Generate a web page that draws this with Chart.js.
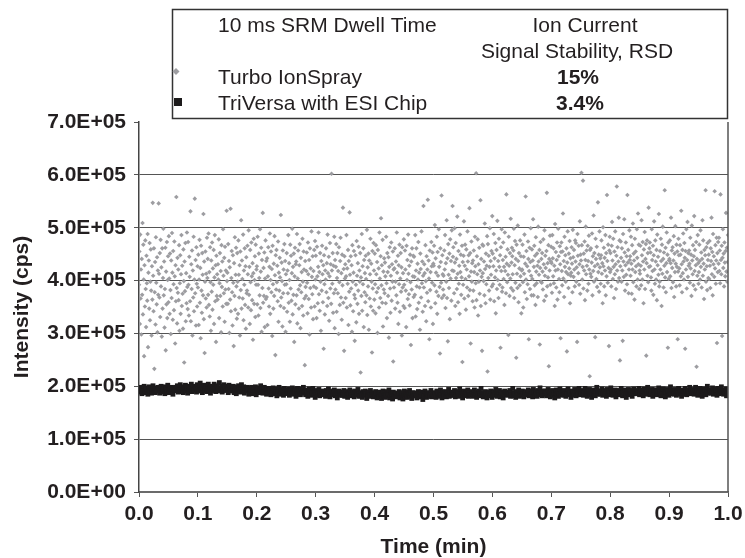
<!DOCTYPE html>
<html>
<head>
<meta charset="UTF-8">
<title>Ion current signal stability</title>
<script src="https://cdn.jsdelivr.net/npm/chart.js@4.4.4/dist/chart.umd.min.js"></script>
<style>
  html, body { margin: 0; padding: 0; background: #fff; }
  #chart { display: block; }
</style>
</head>
<body>
<canvas id="chart" width="745" height="558"></canvas>
<script>
// axis text
const xTickLabels = ['0.0','0.1','0.2','0.3','0.4','0.5','0.6','0.7','0.8','0.9','1.0'];
const yTickLabels = ['0.0E+00','1.0E+05','2.0E+05','3.0E+05','4.0E+05','5.0E+05','6.0E+05','7.0E+05'];
const xTitle = 'Time (min)';
const yTitle = 'Intensity (cps)';

// legend text
const legendHeader = ['10 ms SRM Dwell Time', 'Ion Current', 'Signal Stability, RSD'];
const seriesNames = ['Turbo IonSpray', 'TriVersa with ESI Chip'];
const rsdLabels = ['15%', '3.4%'];

// intensities in thousands of cps, one per scan left to right
const turboKcps = [
  392,455,318,487,366,421,298,441,373,509,336,468,402,257,429,351,476,384,312,447,395,362,488,274,415,
  438,347,471,325,398,459,381,296,427,364,547,409,342,461,233,378,435,317,482,396,355,444,302,419,373,
  546,413,368,452,331,477,389,425,294,461,347,405,498,372,436,311,384,462,268,417,355,473,329,401,446,
  359,484,404,337,451,382,299,438,367,490,415,326,456,393,344,474,408,281,429,361,558,386,319,443,377,
  421,363,467,305,395,448,337,412,486,352,428,375,309,459,399,245,436,380,471,323,414,357,491,388,346,
  473,392,334,445,407,361,531,323,431,384,457,296,419,368,483,342,402,555,376,439,315,463,394,351,427,
  387,449,316,402,477,358,424,291,466,381,339,452,411,372,526,327,436,263,398,455,366,413,349,481,405,
  441,373,489,354,416,332,463,397,305,438,379,472,345,423,392,458,318,406,486,361,429,284,447,371,412,
  364,431,402,478,329,395,452,371,418,302,467,388,436,351,497,409,376,443,322,464,383,419,356,532,399,
  415,356,469,384,437,301,425,364,536,342,405,456,378,315,448,396,276,433,371,482,345,411,462,389,328,
  452,398,337,476,411,368,429,296,455,382,514,347,438,403,366,487,325,419,392,461,354,427,309,444,376,
  381,466,412,349,495,373,426,318,458,397,344,472,408,363,433,288,414,479,356,401,446,331,468,392,421,
  427,355,483,392,334,451,405,372,497,348,417,462,303,439,386,528,358,424,371,453,312,404,476,365,437,
  369,442,316,408,463,385,351,426,489,337,401,455,378,422,295,466,393,347,432,371,484,410,259,448,383,
  458,397,428,361,474,322,415,381,443,406,352,524,368,434,399,313,457,376,421,348,469,392,437,303,412,
  393,452,341,419,376,486,358,433,401,322,468,385,447,362,414,498,336,426,373,451,284,408,462,355,431,
  436,372,488,319,404,457,383,347,429,469,391,310,443,378,416,352,479,398,334,455,421,366,240,437,388,
  371,418,453,396,338,472,412,365,439,298,461,386,423,349,493,407,374,446,327,418,389,458,351,475,402,
  447,386,329,464,408,357,426,491,374,416,343,452,398,305,437,381,466,412,359,429,271,448,393,336,419,
  402,461,378,433,352,487,414,367,445,324,408,471,385,431,356,602,419,394,452,339,428,376,483,310,439,
  383,426,469,341,405,452,376,418,299,463,397,354,437,481,368,414,326,449,391,538,358,422,267,446,404,
  431,367,408,486,349,423,394,458,316,437,379,529,411,353,446,385,429,303,467,398,342,415,456,373,286,
  366,448,392,321,475,409,356,433,381,464,337,419,398,452,226,406,371,488,343,427,393,461,312,439,378,
  414,359,447,403,372,496,335,425,389,451,307,438,366,412,479,351,432,398,264,456,385,343,471,419,364,
  451,393,338,467,412,378,435,301,458,386,423,349,491,404,367,446,518,391,429,358,477,313,417,383,442,
  376,434,408,357,483,395,329,452,416,371,444,292,426,463,385,339,409,472,362,431,398,455,247,421,387,
  423,461,347,398,436,372,491,415,358,447,318,429,393,468,341,404,452,379,425,296,463,387,414,352,478,
  392,348,457,421,381,312,466,401,439,365,487,413,374,428,353,449,397,278,436,383,461,329,408,447,369,
  445,407,373,486,332,419,461,389,346,432,402,473,358,415,387,307,451,422,368,493,395,436,341,409,541,
  387,431,414,352,467,399,323,446,377,421,553,361,438,404,289,457,382,416,349,473,427,396,453,318,432,
  428,466,391,505,357,442,415,379,483,337,454,409,371,497,426,388,262,461,435,396,561,367,448,412,383,
  409,372,457,421,486,348,433,398,514,367,442,285,469,411,386,451,327,478,404,437,362,495,419,541,445,
  463,418,376,499,434,352,471,405,441,384,521,413,359,456,394,428,337,487,416,449,373,406,466,246,435,
  392,447,512,366,428,468,403,345,459,421,387,493,436,371,448,408,537,382,452,281,417,474,398,433,361,
  438,381,457,416,349,483,427,395,603,363,446,412,478,334,431,398,462,375,419,552,352,441,407,267,468,
  414,466,399,436,372,508,422,357,451,393,428,484,228,469,405,447,381,426,499,364,437,411,456,389,522,
  451,393,427,488,361,442,406,471,338,419,458,384,513,401,437,367,479,426,392,448,273,463,418,497,379,
  387,439,472,403,426,354,491,418,445,376,563,432,397,459,411,297,483,428,371,452,404,517,386,434,462,
  446,412,381,457,498,367,429,475,396,441,254,468,413,386,504,437,359,452,423,391,476,408,446,338,419,
  421,468,397,349,445,413,487,378,432,559,402,456,365,427,393,474,441,289,418,462,384,435,499,409,372,
  459,403,438,516,372,426,466,391,447,354,482,417,395,451,428,369,502,436,411,458,279,424,473,398,441,
  396,452,417,383,478,431,362,495,409,447,424,371,456,566,389,433,406,467,238,441,419,485,392,436,464,
  433,377,486,442,408,461,395,428,352,507,419,454,387,439,472,364,421,498,446,403,378,465,431,291,454,
  472,418,391,455,527,404,437,369,483,426,448,398,416,461,266,434,493,412,386,451,423,475,357,442,409,
  415,463,432,378,496,444,407,458,421,389,476,436,471,398,425,284,488,447,414,466,392,431,512,375,449,
  438,604,467,402,426,589,385,451,419,474,363,439,502,412,457,428,381,466,437,394,485,421,219,458,413,
  461,407,434,489,372,446,418,523,398,452,427,293,479,441,403,464,388,431,548,416,449,379,493,425,442,
  394,448,476,413,433,357,501,427,462,389,443,419,486,372,452,408,562,437,396,468,424,276,457,483,416,
  452,421,389,466,511,438,403,479,426,367,455,412,493,431,384,447,578,419,463,398,436,519,405,476,249,
  427,474,443,398,461,419,286,488,436,407,516,453,381,429,472,411,446,393,562,434,458,376,421,495,439,
  446,409,483,432,375,467,421,508,397,451,438,364,479,416,455,427,389,497,443,402,527,431,468,384,419,
  413,466,428,391,514,448,402,473,436,357,459,421,492,384,441,469,258,433,476,409,452,397,538,426,461,
  472,427,453,406,381,497,439,418,466,373,448,512,421,394,476,436,402,458,363,487,429,445,411,526,389,
  398,456,421,479,437,352,468,413,502,441,387,453,428,571,406,462,378,433,491,416,449,273,472,403,438,
  441,476,408,433,519,386,457,424,463,397,438,484,369,451,416,503,432,389,468,426,455,289,417,479,448,
  423,391,467,449,408,532,431,378,458,414,489,436,402,471,443,271,456,421,497,385,439,511,407,452,428,
  457,432,396,481,423,449,371,504,438,412,467,391,446,522,418,458,383,429,473,237,441,409,486,433,394,
  416,468,437,402,495,426,453,387,441,514,409,476,432,365,458,421,448,571,398,463,427,382,471,439,405,
  449,403,475,428,386,461,437,519,412,454,372,488,431,446,407,569,423,467,394,438,481,282,452,416,473,
  432,481,418,457,395,563,439,412,466,295,443,497,424,451,389,472,434,408,456,528,417,462,398,435,486
];

const triversaKcps = [
  195,189,198,192,186,196,191,200,188,194,197,190,185,193,199,191,196,187,194,201,190,195,188,192,197,
  191,198,193,187,196,200,189,195,192,199,186,194,197,190,202,193,188,196,191,198,194,185,197,192,195,
  198,192,201,189,196,194,203,190,197,193,188,199,195,202,191,196,187,200,194,198,192,204,190,196,193,
  193,200,197,189,203,195,191,198,206,194,199,188,196,202,192,197,201,190,195,204,193,198,187,200,196,
  199,192,204,195,190,198,201,193,196,207,191,197,200,189,195,203,194,198,192,200,196,188,202,194,199,
  191,197,193,200,188,195,198,186,196,192,201,194,189,197,203,190,195,199,187,193,196,191,198,194,185,
  195,189,193,198,186,192,196,190,199,184,194,191,197,188,193,201,190,195,187,192,198,189,194,185,196,
  187,193,190,196,184,191,188,197,192,186,194,189,182,195,190,198,185,192,188,194,191,183,196,189,193,
  192,186,190,195,183,189,193,187,197,185,191,188,194,181,190,196,186,192,189,184,195,188,191,198,187,
  190,184,193,187,181,189,195,186,191,183,188,196,185,190,179,187,192,184,189,194,182,188,186,191,185,
  184,190,186,181,192,188,183,195,187,180,189,185,191,184,188,193,182,186,190,178,187,191,185,189,183,
  189,183,187,192,181,186,190,184,179,188,185,193,182,187,184,190,186,180,191,185,188,183,194,186,181,
  182,188,184,179,190,186,183,191,185,177,187,182,189,184,192,181,186,188,180,185,183,190,187,178,186,
  186,180,189,183,177,185,191,182,187,179,184,190,181,186,193,178,183,188,185,176,189,182,186,180,187,
  181,187,183,190,178,185,182,188,176,184,191,180,186,183,179,189,185,192,181,187,177,184,188,182,186,
  187,182,178,185,190,183,186,180,189,184,175,187,182,191,185,179,186,183,188,181,184,192,180,185,183,
  182,188,185,179,191,184,187,181,186,193,183,178,189,185,182,190,186,180,187,184,194,181,188,183,186,
  189,183,187,192,180,186,190,184,188,181,195,185,183,189,178,187,191,185,182,188,186,193,181,187,184,
  184,190,186,181,188,193,183,187,179,189,185,191,182,186,196,184,188,180,187,183,190,185,178,188,186,
  188,182,191,185,179,187,184,190,183,194,186,181,189,185,192,180,187,183,189,178,186,191,184,188,185,
  183,189,185,192,181,187,184,196,182,188,186,179,190,184,187,193,181,186,189,183,191,185,180,188,187,
  190,184,188,193,182,186,191,185,189,180,194,187,183,190,186,181,192,188,184,197,185,189,182,187,191,
  185,191,187,182,189,194,184,188,180,190,186,192,183,188,178,187,193,185,189,181,186,195,184,190,188,
  189,183,192,186,181,188,185,195,184,190,187,179,191,186,189,183,194,188,182,187,190,185,196,184,189,
  186,192,188,183,190,196,185,189,181,191,187,194,184,189,179,188,193,186,190,182,187,198,185,191,189,
  191,185,189,195,183,188,192,186,190,181,194,187,184,191,188,197,185,189,183,190,186,193,180,188,192,
  186,191,184,189,196,187,182,190,188,193,185,179,191,187,194,184,189,186,192,181,188,195,186,190,187,
  192,186,190,196,184,189,193,187,191,182,195,188,185,192,189,198,186,190,184,191,187,194,181,189,193,
  187,193,189,184,191,197,186,190,182,192,188,195,185,190,180,189,194,187,191,183,188,199,186,192,190,
  191,185,194,188,183,190,187,196,185,192,189,181,193,188,191,185,196,190,184,189,192,187,198,186,191,
  188,194,190,185,192,198,187,191,183,193,189,196,186,191,181,190,195,188,192,184,189,200,187,193,191,
  193,187,191,197,185,190,194,188,192,183,196,189,186,193,190,199,187,191,185,192,188,195,182,190,194
];

const turboColor = '#9d9da1';
const triversaColor = '#1c1a1b';
const inkColor = '#231f20';
const fontFamily = "'Liberation Sans', Arial, Helvetica, sans-serif";

// scans are evenly spaced over the 1 min acquisition
function toPoints(kcps) {
  const last = kcps.length - 1;
  return kcps.map((v, i) => ({ x: i / last, y: v * 1000 }));
}

// table-style legend box plus the right frame of the plot area
const legendBox = {
  id: 'legendBox',
  afterDraw(chart) {
    const ctx = chart.ctx;
    const a = chart.chartArea;
    ctx.save();
    ctx.strokeStyle = '#555';
    ctx.lineWidth = 1.5;
    ctx.beginPath();
    ctx.moveTo(a.right, a.top);
    ctx.lineTo(a.right, a.bottom);
    ctx.stroke();

    ctx.strokeStyle = '#333';
    ctx.lineWidth = 1.5;
    ctx.strokeRect(172.5, 9.5, 555, 109);

    ctx.fillStyle = inkColor;
    ctx.textBaseline = 'alphabetic';
    ctx.font = '21px ' + fontFamily;
    ctx.textAlign = 'left';
    ctx.fillText(legendHeader[0], 218, 32);
    ctx.fillText(seriesNames[0], 218, 84);
    ctx.fillText(seriesNames[1], 218, 110);
    ctx.textAlign = 'center';
    ctx.fillText(legendHeader[1], 585, 32);
    ctx.fillText(legendHeader[2], 577, 58);
    ctx.font = 'bold 21px ' + fontFamily;
    ctx.fillText(rsdLabels[0], 578, 84);
    ctx.fillText(rsdLabels[1], 580, 110);

    // markers
    ctx.fillStyle = turboColor;
    ctx.beginPath();
    ctx.moveTo(176, 68);
    ctx.lineTo(179.5, 71.5);
    ctx.lineTo(176, 75);
    ctx.lineTo(172.5, 71.5);
    ctx.closePath();
    ctx.fill();
    ctx.fillStyle = triversaColor;
    ctx.fillRect(174, 98, 8, 8);
    ctx.restore();
  }
};

Chart.defaults.font.family = fontFamily;
Chart.defaults.color = inkColor;

new Chart(document.getElementById('chart'), {
  type: 'scatter',
  data: {
    datasets: [
      {
        label: seriesNames[1],
        data: toPoints(triversaKcps),
        order: 0,
        pointStyle: 'rect',
        pointRadius: 3.4,
        pointBorderWidth: 0,
        backgroundColor: triversaColor
      },
      {
        label: seriesNames[0],
        data: toPoints(turboKcps),
        order: 1,
        pointStyle: 'rectRot',
        pointRadius: 2.3,
        pointBorderWidth: 0,
        backgroundColor: turboColor
      }
    ]
  },
  options: {
    responsive: false,
    animation: false,
    events: [],
    layout: { padding: { top: 122, right: 17, bottom: 0, left: 0 } },
    plugins: {
      legend: { display: false },
      tooltip: { enabled: false }
    },
    scales: {
      x: {
        type: 'linear',
        min: 0,
        max: 1,
        afterFit(s) { s.height = 66; s.paddingLeft = 0; s.paddingRight = 0; },
        border: { display: true, color: '#6b6b6b', width: 2 },
        grid: { drawOnChartArea: false, drawTicks: true, tickLength: 5, tickColor: '#555' },
        ticks: {
          stepSize: 0.1,
          autoSkip: false,
          maxRotation: 0,
          padding: 5,
          color: inkColor,
          font: { size: 21, weight: 'bold' },
          callback: (v, i) => xTickLabels[i]
        },
        title: {
          display: true,
          text: xTitle,
          color: inkColor,
          font: { size: 21, weight: 'bold' },
          padding: { top: 0, bottom: -2 }
        }
      },
      y: {
        min: 0,
        max: 700000,
        afterFit(s) { s.width = 139; },
        border: { display: true, color: '#444', width: 1.5 },
        grid: {
          color: c => (c.tick && c.tick.value === 700000) ? 'rgba(0,0,0,0)' : '#555',
          tickColor: '#555',
          tickLength: 5,
          lineWidth: 1
        },
        ticks: {
          stepSize: 100000,
          padding: 8,
          color: inkColor,
          font: { size: 21, weight: 'bold' },
          callback: (v, i) => yTickLabels[i]
        },
        title: {
          display: true,
          text: yTitle,
          color: inkColor,
          font: { size: 21, weight: 'bold' },
          padding: { top: 10, bottom: 0 }
        }
      }
    }
  },
  plugins: [legendBox]
});
</script>
</body>
</html>
